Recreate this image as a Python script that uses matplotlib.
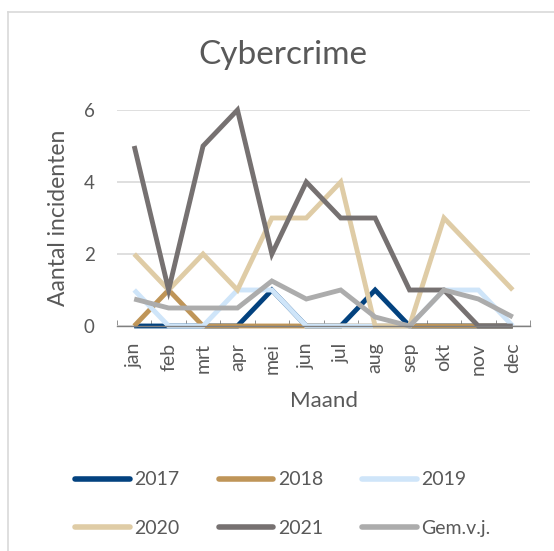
import matplotlib
matplotlib.use("Agg")
import matplotlib.pyplot as plt
from matplotlib.lines import Line2D

plt.rcParams["font.family"] = ["Lato", "DejaVu Sans"]

# Data ------------------------------------------------------------------
months = ["jan", "feb", "mrt", "apr", "mei", "jun",
          "jul", "aug", "sep", "okt", "nov", "dec"]
y2017 = [0, 0, 0, 0, 1, 0, 0, 1, 0, 0, 0, 0]
y2018 = [0, 1, 0, 0, 0, 0, 0, 0, 0, 0, 0, 0]
y2019 = [1, 0, 0, 1, 1, 0, 0, 0, 0, 1, 1, 0]
y2020 = [2, 1, 2, 1, 3, 3, 4, 0, 0, 3, 2, 1]
y2021 = [5, 1, 5, 6, 2, 4, 3, 3, 1, 1, 0, 0]
gem = [0.75, 0.5, 0.5, 0.5, 1.25, 0.75, 1, 0.25, 0, 1, 0.75, 0.25]

labels = ["2017", "2018", "2019", "2020", "2021", "Gem.v.j."]
colors = ["#03427f", "#bf9558", "#cfe5f9", "#dfcca6", "#767171", "#acacac"]
series = [y2017, y2018, y2019, y2020, y2021, gem]

text_col = "#595959"

# Figure ----------------------------------------------------------------
W, H = 554, 551
fig = plt.figure(figsize=(W / 100, H / 100), dpi=100)

# chart border (only top and left edges are inside the picture)
fig.add_artist(Line2D([8 / W, 1], [1 - 12 / H, 1 - 12 / H], color="#d9d9d9",
                      lw=1.2, transform=fig.transFigure))
fig.add_artist(Line2D([8 / W, 8 / W], [0, 1 - 12 / H], color="#d9d9d9",
                      lw=1.2, transform=fig.transFigure))

ax = fig.add_axes([117 / W, 1 - 326 / H, (530 - 117) / W, (326 - 110) / H])

x = list(range(len(months)))
for vals, lab, col in zip(series, labels, colors):
    ax.plot(x, vals, color=col, lw=3.5, label=lab,
            solid_joinstyle="miter", solid_capstyle="butt", clip_on=False)

ax.set_xlim(-0.5, 11.5)
ax.set_ylim(0, 6)
ax.set_yticks([0, 2, 4, 6])
ax.set_xticks(x)
ax.set_xticklabels(months, rotation=90)
ax.set_xticks([i + 0.5 for i in range(-1, 12)], minor=True)

ax.grid(axis="y", color="#d9d9d9", lw=1.2)
ax.set_axisbelow(True)
for s in ["top", "right", "left"]:
    ax.spines[s].set_visible(False)
ax.spines["bottom"].set_color("#808080")
ax.spines["bottom"].set_linewidth(1.0)

ax.tick_params(axis="y", length=0, pad=16, labelsize=13.5, labelcolor=text_col)
ax.tick_params(axis="x", which="major", length=0, pad=12, labelsize=14,
               labelcolor=text_col)
ax.tick_params(axis="x", which="minor", length=4, direction="in",
               color="#808080")

ax.set_xlabel("Maand", fontsize=16, color=text_col, labelpad=12)
ax.set_ylabel("Aantal incidenten", fontsize=16.5, color=text_col, labelpad=11)
fig.text(283 / W, 1 - 55 / H, "Cybercrime", fontsize=24, color=text_col,
         ha="center", va="center")

# legend filled row by row, as in the reference
leg_handles = [Line2D([], [], color=c, lw=4, solid_capstyle="round")
               for c in colors]
order = [0, 3, 1, 4, 2, 5]
fig.legend([leg_handles[i] for i in order], [labels[i] for i in order],
           ncol=3, loc="center", bbox_to_anchor=(283 / W, 1 - 504 / H),
           frameon=False, fontsize=14, labelcolor=text_col, handlelength=2.8,
           handletextpad=0.25, columnspacing=2.0, labelspacing=1.6)

fig.savefig("out.png", dpi=100)
